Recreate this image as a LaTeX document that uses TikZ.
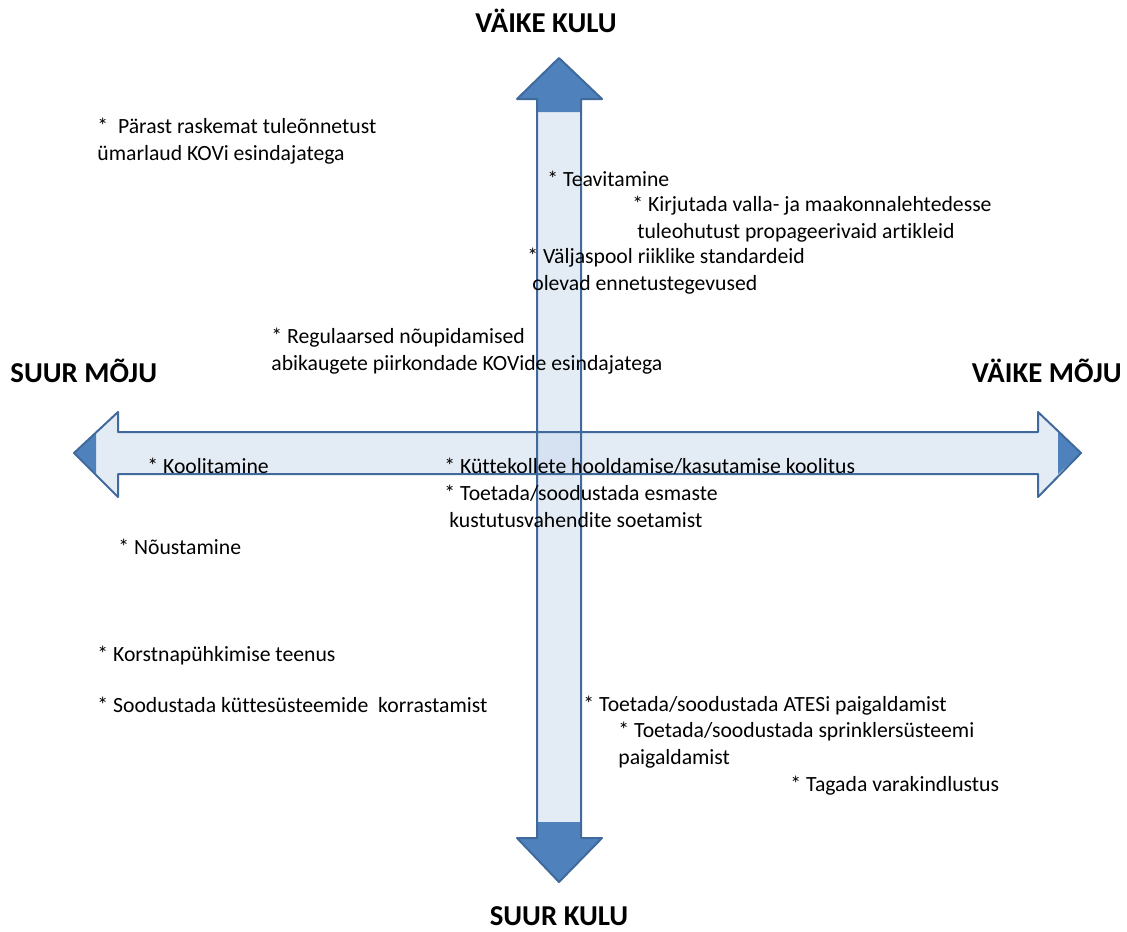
\documentclass[tikz,border=0pt]{standalone}
\usepackage{fontspec}
\setmainfont[Ligatures=NoCommon]{Carlito}
\usepackage{tikz}

\definecolor{armlight}{RGB}{200,216,236}
\definecolor{armdark}{RGB}{79,129,189}
\definecolor{armline}{RGB}{65,106,156}

\begin{document}
\begin{tikzpicture}[x=0.5pt, y=-0.5pt,
    item/.style={anchor=base west, inner sep=0pt, align=left, font=\fontsize{10.85}{13.3}\selectfont},
    axis/.style={inner sep=0pt, font=\fontsize{14.4}{17}\selectfont\bfseries}]
    \useasboundingbox (0,0) rectangle (1127,931);

    % light bodies
    \fill[armlight, fill opacity=0.5] (74,453) -- (118,412) -- (118,432) -- (1038,432) -- (1038,412)
        -- (1081,453) -- (1038,497) -- (1038,474) -- (118,474) -- (118,497) -- cycle;
    \fill[armlight, fill opacity=0.5] (559,58) -- (602,99) -- (581,99) -- (581,838) -- (602,838)
        -- (559,882) -- (517,838) -- (537,838) -- (537,99) -- (517,99) -- cycle;

    % dark tips
    \fill[armdark] (74,453) -- (96,432) -- (96,474) -- cycle;
    \fill[armdark] (1081,453) -- (1058,432) -- (1058,474) -- cycle;
    \fill[armdark] (559,58) -- (602,99) -- (581,99) -- (581,112) -- (537,112) -- (537,99) -- (517,99) -- cycle;
    \fill[armdark] (559,882) -- (602,838) -- (581,838) -- (581,822) -- (537,822) -- (537,838) -- (517,838) -- cycle;

    % outlines
    \draw[armline, line width=1pt, line join=round] (74,453) -- (118,412) -- (118,432) -- (1038,432) -- (1038,412)
        -- (1081,453) -- (1038,497) -- (1038,474) -- (118,474) -- (118,497) -- cycle;
    \draw[armline, line width=1pt, line join=round] (559,58) -- (602,99) -- (581,99) -- (581,838) -- (602,838)
        -- (559,882) -- (517,838) -- (537,838) -- (537,99) -- (517,99) -- cycle;

    \node[axis, anchor=base] (smallcost) at (546,33) {VÄIKE KULU};
    \node[axis, anchor=base] (bigcost) at (559,925) {SUUR KULU};
    \node[axis, anchor=base west] (bigimpact) at (10,382) {SUUR MÕJU};
    \node[axis, anchor=base east] (smallimpact) at (1122,382) {VÄIKE MÕJU};

    % two-line texts sit on the baseline of their last line
    \node[item] (roundtable) at (97,160) {*\ \ Pärast raskemat tuleõnnetust\\ümarlaud KOVi esindajatega};
    \node[item] (inform) at (547,186) {* Teavitamine};
    \node[item] (articles) at (632,238) {* Kirjutada valla- ja maakonnalehtedesse\\\ tuleohutust propageerivaid artikleid};
    \node[item] (outside) at (527,290) {* Väljaspool riiklike standardeid\\\ olevad ennetustegevused};
    \node[item] (meetings) at (271,370) {* Regulaarsed nõupidamised\\abikaugete piirkondade KOVide esindajatega};

    \node[item] (training) at (147,473) {* Koolitamine};
    \node[item] (stoves) at (444,473) {* Küttekollete hooldamise/kasutamise koolitus};
    \node[item] (extinguish) at (444,527) {* Toetada/soodustada esmaste\\\ kustutusvahendite soetamist};
    \node[item] (advice) at (118,554) {* Nõustamine};

    \node[item] (chimney) at (97,661) {* Korstnapühkimise teenus};
    \node[item] (heating) at (97,712) {* Soodustada küttesüsteemide\ \ korrastamist};
    \node[item] (smokealarm) at (583,711) {* Toetada/soodustada ATESi paigaldamist};
    \node[item] (sprinkler) at (618,764) {* Toetada/soodustada sprinklersüsteemi\\paigaldamist};
    \node[item] (insurance) at (790,791) {* Tagada varakindlustus};

\end{tikzpicture}
\end{document}
